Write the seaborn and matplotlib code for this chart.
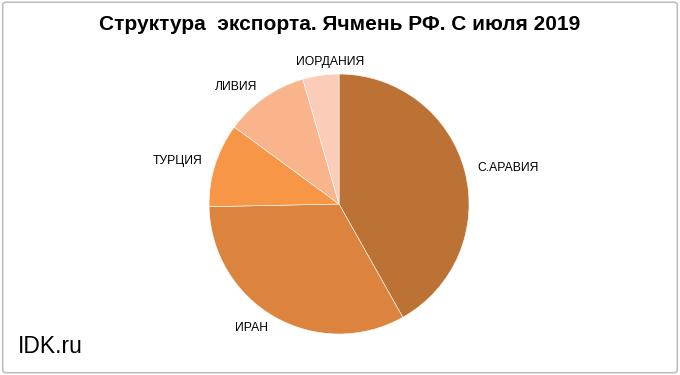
import matplotlib
matplotlib.use("Agg")
import matplotlib.pyplot as plt
import seaborn as sns
from matplotlib.patches import FancyBboxPatch

countries = ["С.АРАВИЯ", "ИРАН", "ТУРЦИЯ", "ЛИВИЯ", "ИОРДАНИЯ"]
shares = [41.8, 32.8, 10.4, 10.4, 4.5]
colors = ["#BB7234", "#DC843E", "#F79646", "#F9B48C", "#FBCDB8"]

sns.set_style("white")
plt.rcParams["font.family"] = ["Liberation Sans", "DejaVu Sans"]
plt.rcParams["text.color"] = "black"

fig = plt.figure(figsize=(6.8, 3.75), dpi=100)

# grey frame like the Excel chart area
fig.patches.append(FancyBboxPatch((0.004, 0.006), 0.992, 0.988,
                                  boxstyle="round,pad=0,rounding_size=0.006",
                                  transform=fig.transFigure, fill=False,
                                  edgecolor="#BFBFBF", linewidth=1.2))

ax = fig.add_axes([0.3074, 0.1093, 0.3824, 0.6933])
wedges, texts = ax.pie(shares, labels=countries, colors=colors,
                       startangle=90, counterclock=False,
                       labeldistance=1.1,
                       wedgeprops=dict(edgecolor="white", linewidth=0.4),
                       textprops=dict(fontsize=8.7, color="black"))
texts[-1].set_horizontalalignment("center")
texts[-1].set_x(texts[-1].get_position()[0] + 0.09)
ax.set_xlim(-1, 1)
ax.set_ylim(-1, 1)
for t in texts:
    t.set_clip_on(False)

fig.text(0.5, 0.935, "Структура  экспорта. Ячмень РФ. С июля 2019",
         ha="center", va="center", fontsize=15, fontweight="bold", color="black")
fig.text(0.026, 0.075, "IDK.ru", ha="left", va="center", fontsize=16.5, color="black")

fig.savefig("out.png", dpi=100)
